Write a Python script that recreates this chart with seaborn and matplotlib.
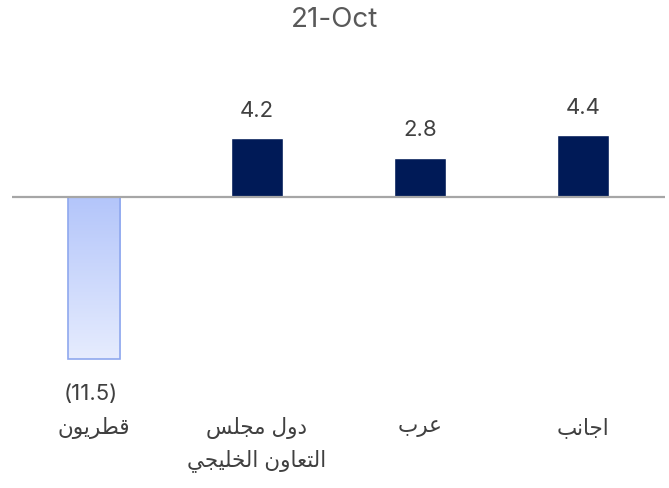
import numpy as np
import pandas as pd
import matplotlib
matplotlib.use('Agg')
import matplotlib.pyplot as plt
import seaborn as sns

# chart data
categories = ['قطريون', 'دول مجلس\nالتعاون الخليجي', 'عرب', 'اجانب']
values = [-11.5, 4.2, 2.8, 4.4]
title = '21-Oct'

# small Arabic shaper (matplotlib has no complex text layout)
FORMS = {  # isolated, final, initial, medial
    'ا': (0xFE8D, 0xFE8E, None, None),
    'ب': (0xFE8F, 0xFE90, 0xFE91, 0xFE92),
    'ت': (0xFE95, 0xFE96, 0xFE97, 0xFE98),
    'ج': (0xFE9D, 0xFE9E, 0xFE9F, 0xFEA0),
    'خ': (0xFEA5, 0xFEA6, 0xFEA7, 0xFEA8),
    'د': (0xFEA9, 0xFEAA, None, None),
    'ر': (0xFEAD, 0xFEAE, None, None),
    'س': (0xFEB1, 0xFEB2, 0xFEB3, 0xFEB4),
    'ط': (0xFEC1, 0xFEC2, 0xFEC3, 0xFEC4),
    'ع': (0xFEC9, 0xFECA, 0xFECB, 0xFECC),
    'ق': (0xFED5, 0xFED6, 0xFED7, 0xFED8),
    'ل': (0xFEDD, 0xFEDE, 0xFEDF, 0xFEE0),
    'م': (0xFEE1, 0xFEE2, 0xFEE3, 0xFEE4),
    'ن': (0xFEE5, 0xFEE6, 0xFEE7, 0xFEE8),
    'و': (0xFEED, 0xFEEE, None, None),
    'ي': (0xFEF1, 0xFEF2, 0xFEF3, 0xFEF4),
}


def shape_line(s):
    out = []
    for i, ch in enumerate(s):
        if ch not in FORMS:
            out.append(ch)
            continue
        prev = s[i - 1] if i > 0 else ''
        nxt = s[i + 1] if i + 1 < len(s) else ''
        join_prev = prev in FORMS and FORMS[prev][2] is not None
        join_next = FORMS[ch][2] is not None and nxt in FORMS
        f = FORMS[ch]
        if join_prev and join_next:
            code = f[3]
        elif join_prev:
            code = f[1]
        elif join_next:
            code = f[2]
        else:
            code = f[0]
        out.append(chr(code))
    return ''.join(out)[::-1]


def shape(s):
    return '\n'.join(shape_line(l) for l in s.split('\n'))


df = pd.DataFrame({'cat': [shape(c) for c in categories], 'val': values})

sns.set_style('white')
plt.rcParams['font.family'] = ['Inter', 'DejaVu Sans']

fig = plt.figure(figsize=(6.69, 4.89), dpi=100)
ax = fig.add_axes([12 / 669, 109 / 489, 653 / 669, 320 / 489])

navy = '#001A57'
sns.barplot(data=df, x='cat', y='val', width=0.32, ax=ax,
            palette=['#C6D3FB', navy, navy, navy], hue='cat', legend=False,
            saturation=1)

# gradient fill + outline for the negative bar
p0 = ax.patches[0]
p0.set_edgecolor('#8FA8EE')
p0.set_linewidth(1.2)
grad = np.linspace(0, 1, 256).reshape(-1, 1)
cmap = matplotlib.colors.LinearSegmentedColormap.from_list('g', ['#B3C5FA', '#E6ECFE'])
x0, y0 = p0.get_x(), p0.get_y()
w, h = p0.get_width(), p0.get_height()
im = ax.imshow(grad, cmap=cmap, aspect='auto', origin='upper',
               extent=[x0, x0 + w, y0 + h, y0], zorder=p0.get_zorder() - 0.1)
im.set_clip_path(p0)
p0.set_facecolor('none')
p0.set_zorder(3)

ax.set_xlim(-0.5, 3.5)
ax.set_ylim(-12.91, 9.79)
ax.axhline(0, color='#A6A6A6', lw=1.6, zorder=4)

for i, v in enumerate(values):
    if v >= 0:
        ax.annotate(f'{v:.1f}', (i, v), xytext=(0, 13), textcoords='offset points',
                    ha='center', va='bottom', fontsize=16, color='#404040')
    else:
        ax.annotate(f'({abs(v):.1f})', (i, v), xytext=(-2, -17), textcoords='offset points',
                    ha='center', va='top', fontsize=16, color='#404040')

ax.set_xlabel('')
ax.set_ylabel('')
ax.set_yticks([])
ax.tick_params(axis='x', length=0, pad=27, labelsize=15.5, labelcolor='#404040')
for t in ax.get_xticklabels():
    t.set_linespacing(1.55)
for s in ax.spines.values():
    s.set_visible(False)

fig.text(0.5, 1 - 20 / 489, title, ha='center', va='center', fontsize=20, color='#595959')

fig.savefig('out.png', dpi=100)
